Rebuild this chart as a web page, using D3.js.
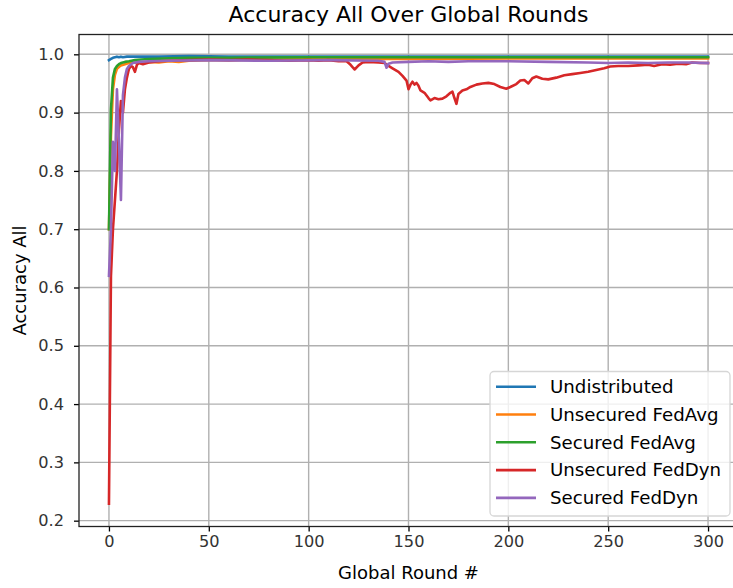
<!DOCTYPE html>
<html>
<head>
<meta charset="utf-8">
<script src="https://cdn.jsdelivr.net/npm/d3@7"></script>
<style>
  body { margin: 0; background: #fff; }
  svg { display: block; font-family: "DejaVu Sans", sans-serif; }
</style>
</head>
<body>
<div id="chart"></div>
<script>
// series values, as [round, accuracy]
var undistributed = [[0,0.990],[1,0.992],[2,0.994],[3,0.995],[4,0.996],[5,0.995],[6,0.996],[7,0.995],[9,0.996],
  [15,0.996],[25,0.996],[40,0.997],[60,0.996],[80,0.996],[100,0.996],[130,0.996],[160,0.996],[200,0.996],[250,0.996],[300,0.996]];
var unsecuredFedAvg = [[0,0.700],[1,0.860],[2,0.940],[3,0.965],[4,0.975],[5,0.978],[6,0.981],[8,0.983],[10,0.985],[13,0.986],
  [16,0.985],[20,0.987],[25,0.986],[30,0.988],[35,0.987],[40,0.989],[50,0.990],[60,0.990],[80,0.991],[100,0.992],
  [130,0.992],[160,0.992],[200,0.993],[250,0.993],[300,0.993]];
var securedFedAvg = [[0,0.700],[1,0.905],[2,0.960],[3,0.975],[4,0.980],[5,0.983],[6,0.985],[8,0.987],[10,0.988],[13,0.990],
  [16,0.991],[20,0.992],[30,0.993],[40,0.994],[60,0.994],[100,0.995],[150,0.995],[200,0.995],[250,0.995],[300,0.995]];
var unsecuredFedDyn = [[0,0.229],[1,0.620],[2,0.700],[3,0.750],[4,0.800],[5,0.870],[6,0.920],[7,0.900],[8,0.940],[9,0.960],
  [10,0.975],[11,0.980],[12,0.978],[13,0.970],[14,0.982],[15,0.985],[17,0.983],[20,0.986],[25,0.988],[30,0.989],
  [40,0.990],[50,0.991],[60,0.990],[70,0.991],[80,0.990],[90,0.989],[100,0.990],[105,0.989],[110,0.990],[115,0.988],
  [119,0.988],[121,0.982],[123,0.974],[125,0.981],[127,0.986],[130,0.987],[135,0.986],[138,0.985],[140,0.980],[142,0.976],
  [145,0.970],[147,0.963],[149,0.955],[150,0.940],[151,0.948],[152,0.953],[153,0.948],[154,0.951],[155,0.946],[156,0.938],
  [158,0.934],[160,0.925],[161,0.921],[163,0.925],[165,0.923],[167,0.924],[169,0.928],[171,0.934],[172,0.936],[173,0.925],
  [174,0.915],[175,0.932],[177,0.938],[179,0.940],[181,0.944],[184,0.948],[187,0.950],[190,0.951],[193,0.949],[196,0.944],
  [199,0.941],[201,0.944],[204,0.949],[206,0.955],[208,0.956],[210,0.950],[212,0.959],[214,0.962],[217,0.958],[220,0.957],
  [224,0.960],[228,0.964],[232,0.966],[236,0.968],[240,0.970],[244,0.973],[248,0.976],[251,0.979],[255,0.980],[260,0.980],
  [265,0.981],[270,0.982],[273,0.980],[277,0.983],[281,0.982],[285,0.984],[289,0.983],[292,0.986],[296,0.985],[300,0.985]];
var securedFedDyn = [[0,0.620],[1,0.700],[2,0.850],[3,0.800],[4,0.940],[5,0.850],[6,0.750],[7,0.930],[8,0.960],[9,0.975],
  [10,0.980],[12,0.985],[15,0.987],[20,0.988],[30,0.989],[50,0.990],[80,0.989],[110,0.990],[135,0.989],[138,0.987],
  [139,0.977],[140,0.984],[142,0.986],[150,0.987],[160,0.988],[170,0.987],[180,0.988],[200,0.988],[220,0.987],[240,0.986],
  [250,0.985],[260,0.986],[270,0.985],[280,0.986],[290,0.986],[300,0.985]];

var seriesNames = ["Undistributed", "Unsecured FedAvg", "Secured FedAvg", "Unsecured FedDyn", "Secured FedDyn"];
var seriesData = [undistributed, unsecuredFedAvg, securedFedAvg, unsecuredFedDyn, securedFedDyn];
var xTicks = [0, 50, 100, 150, 200, 250, 300];
var yTicks = [0.2, 0.3, 0.4, 0.5, 0.6, 0.7, 0.8, 0.9, 1.0];

const color = ["#1f77b4", "#ff7f0e", "#2ca02c", "#d62728", "#9467bd"];
var W = 733, H = 588;
var plot = {left: 79, right: 738, top: 34.5, bottom: 526.5};
var tickFont = 16.2, labelFont = 18, titleFont = 22;

var svg = d3.select("#chart").append("svg")
  .attr("width", W).attr("height", H);

var x = d3.scaleLinear().domain([-15, 315]).range([plot.left, plot.right]);
var y = d3.scaleLinear().domain([0.190, 1.034]).range([plot.bottom, plot.top]);

svg.append("clipPath").attr("id", "clip")
  .append("rect")
  .attr("x", plot.left).attr("y", plot.top)
  .attr("width", plot.right - plot.left).attr("height", plot.bottom - plot.top);

// grid
var grid = svg.append("g").attr("stroke", "#b0b0b0").attr("stroke-width", 1.4);
grid.selectAll(".gx").data(xTicks).enter().append("line")
  .attr("x1", d => x(d)).attr("x2", d => x(d))
  .attr("y1", plot.top).attr("y2", plot.bottom);
grid.selectAll(".gy").data(yTicks).enter().append("line")
  .attr("x1", plot.left).attr("x2", plot.right)
  .attr("y1", d => y(d)).attr("y2", d => y(d));

// lines
var line = d3.line().x(d => x(d[0])).y(d => y(d[1]));
svg.append("g").attr("clip-path", "url(#clip)")
  .selectAll("path").data(seriesData).enter().append("path")
  .attr("d", line)
  .attr("fill", "none")
  .attr("stroke", (d, i) => color[i])
  .attr("stroke-width", 2.6)
  .attr("stroke-linejoin", "round")
  .attr("stroke-linecap", "square");

// axes
var xAxis = svg.append("g")
  .attr("transform", "translate(0," + plot.bottom + ")")
  .call(d3.axisBottom(x).tickValues(xTicks).tickFormat(d3.format("d")).tickSize(5).tickPadding(4));
var yAxis = svg.append("g")
  .attr("transform", "translate(" + plot.left + ",0)")
  .call(d3.axisLeft(y).tickValues(yTicks).tickFormat(d3.format(".1f")).tickSize(5).tickPadding(10));
[xAxis, yAxis].forEach(function(a) {
  a.select(".domain").remove();
  a.selectAll("line").attr("stroke", "#000").attr("stroke-width", 1.3);
  a.selectAll("text").attr("font-size", tickFont).attr("font-family", "DejaVu Sans").attr("fill", "#333");
});

// frame
svg.append("rect")
  .attr("x", plot.left).attr("y", plot.top)
  .attr("width", plot.right - plot.left).attr("height", plot.bottom - plot.top)
  .attr("fill", "none").attr("stroke", "#222").attr("stroke-width", 1.3);

// labels
svg.append("text")
  .attr("x", (plot.left + plot.right) / 2).attr("y", 22)
  .attr("text-anchor", "middle").attr("font-size", titleFont)
  .text("Accuracy All Over Global Rounds");
svg.append("text")
  .attr("x", (plot.left + plot.right) / 2).attr("y", 579)
  .attr("text-anchor", "middle").attr("font-size", labelFont)
  .text("Global Round #");
svg.append("text")
  .attr("transform", "translate(26," + (plot.top + plot.bottom) / 2 + ") rotate(-90)")
  .attr("text-anchor", "middle").attr("font-size", labelFont)
  .text("Accuracy All");

// legend
var legend = svg.append("g");
legend.append("rect")
  .attr("x", 490).attr("y", 371.5).attr("width", 240).attr("height", 144.5)
  .attr("rx", 4).attr("ry", 4)
  .attr("fill", "#fff").attr("fill-opacity", 0.8)
  .attr("stroke", "#d6d6d6").attr("stroke-width", 1.3);
var rows = legend.selectAll(".row").data(seriesNames).enter().append("g")
  .attr("transform", (d, i) => "translate(0," + (386.7 + i * 27.8) + ")");
rows.append("line")
  .attr("x1", 496).attr("x2", 536)
  .attr("stroke", (d, i) => color[i]).attr("stroke-width", 2.6);
rows.append("text")
  .attr("x", 550).attr("dy", "0.35em")
  .attr("font-size", 18.2)
  .text(d => d);
</script>
</body>
</html>
